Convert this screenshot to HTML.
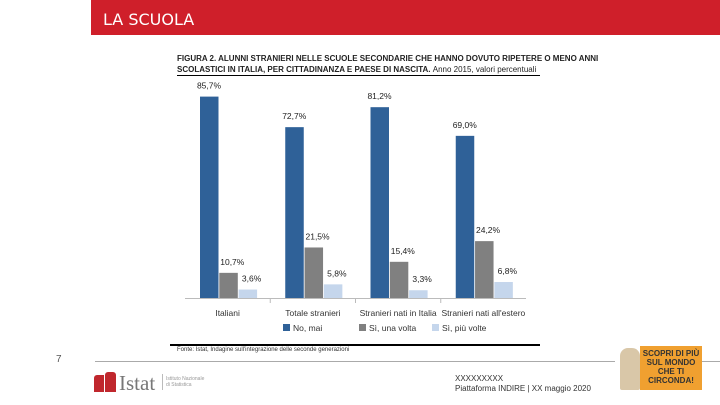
<!DOCTYPE html>
<html><head><meta charset="utf-8"><style>
body{margin:0;width:720px;height:405px;background:#fff;position:relative;overflow:hidden;font-family:"Liberation Sans",sans-serif}
.abs{position:absolute}
</style></head><body>
<div class="abs" style="left:91px;top:0;width:629px;height:35px;background:#cf1f2a"></div>
<div class="abs" style="left:103px;top:10px;color:#fff;font-size:16px;font-family:'DejaVu Sans',sans-serif">LA SCUOLA</div>
<div class="abs" style="left:177px;top:53px;font-size:8.6px;line-height:11px;color:#222;font-weight:bold;transform:scaleX(0.93);transform-origin:left;white-space:nowrap">FIGURA 2. ALUNNI STRANIERI NELLE SCUOLE SECONDARIE CHE HANNO DOVUTO RIPETERE O MENO ANNI<br>SCOLASTICI IN ITALIA, PER CITTADINANZA E PAESE DI NASCITA. <span style="font-weight:normal">Anno 2015, valori percentuali</span></div>
<div class="abs" style="left:177px;top:75px;width:363px;height:1px;background:#000"></div>
<svg class="abs" style="left:0;top:0" width="720" height="405" id="chart">
<line x1="185" y1="298.5" x2="526" y2="298.5" stroke="#bbb"/>
</svg>
<div class="abs" style="left:170px;top:344px;width:370px;height:2px;background:#000"></div>
<div class="abs" style="left:177px;top:347px;font-size:6px;color:#333">Fonte: Istat, Indagine sull'integrazione delle seconde generazioni</div>
<div class="abs" style="left:95px;top:361px;width:520px;height:1px;background:#aaa"></div>
<div class="abs" style="left:700px;top:361px;width:20px;height:1px;background:#aaa"></div>
<div class="abs" style="left:56px;top:354px;font-size:10px;color:#555">7</div>
<div class="abs" style="left:94px;top:372px;width:60px;height:20px">
<div class="abs" style="left:0;top:3px;width:10px;height:17px;background:#c0272d;border-radius:3px 0 0 0"></div>
<div class="abs" style="left:11px;top:0;width:11px;height:20px;background:#c0272d;border-radius:3px 3px 0 0"></div>
<div class="abs" style="left:25px;top:-1px;font-family:'Liberation Serif',serif;font-size:21px;color:#777">Istat</div>
<div class="abs" style="left:68px;top:2px;width:1px;height:16px;background:#bbb"></div>
<div class="abs" style="left:72px;top:4px;font-size:5px;color:#999;white-space:nowrap">Istituto Nazionale<br>di Statistica</div>
</div>
<div class="abs" style="left:455px;top:374px;font-size:8px;color:#333">XXXXXXXXX</div>
<div class="abs" style="left:455px;top:384px;font-size:8px;color:#333">Piattaforma INDIRE | XX maggio 2020</div>
<div class="abs" style="left:640px;top:346px;width:62px;height:44px;background:#f0a030;color:#333;font-size:8px;font-weight:bold;text-align:center;line-height:9px;padding-top:3px;box-sizing:border-box">SCOPRI DI PIÙ<br>SUL MONDO<br>CHE TI CIRCONDA!</div>
<div class="abs" style="left:620px;top:348px;width:20px;height:42px;background:#d9c7a8;border-radius:8px 8px 2px 2px"></div>
<script>
const categories=["Italiani","Totale stranieri","Stranieri nati in Italia","Stranieri nati all'estero"];
const seriesNames=["No, mai","Sì, una volta","Sì, più volte"];
const noMai=[85.7,72.7,81.2,69.0];
const unaVolta=[10.7,21.5,15.4,24.2];
const piuVolte=[3.6,5.8,3.3,6.8];
const labelsNoMai=["85,7%","72,7%","81,2%","69,0%"];
const labelsUna=["10,7%","21,5%","15,4%","24,2%"];
const labelsPiu=["3,6%","5,8%","3,3%","6,8%"];
const colors=["#2f6198","#808080","#c5d6ec"];
const svg=document.getElementById('chart');
const NS="http://www.w3.org/2000/svg";
const x0=185,x1=526,base=298,kPx=2.35;
const catW=(x1-x0)/categories.length;
const yS=v=>base-v*kPx;
const series=[noMai,unaVolta,piuVolte];
const labs=[labelsNoMai,labelsUna,labelsPiu];
function mk(t,a){const e=document.createElementNS(NS,t);for(const k in a)e.setAttribute(k,a[k]);svg.appendChild(e);return e;}
categories.forEach((c,i)=>{
  const cx=x0+catW*i;
  if(i>0){const t=mk('line',{x1:cx,y1:298,x2:cx,y2:303,stroke:'#bbb'});
    
    }
  const l=mk('text',{x:cx+catW/2,y:316,'text-anchor':'middle','font-size':'8.5','fill':'#333','font-family':'Liberation Sans,sans-serif'});
  l.textContent=c;
  
  
  series.forEach((s,j)=>{
    const bx=cx+15+j*19.3,y=yS(s[i]);
    const r=mk('rect',{x:bx,y:y,width:18.5,height:base-y,fill:colors[j]});
    
    
    const t=mk('text',{x:bx+9+(j>0?4:0),y:y-8,'text-anchor':'middle','font-size':'8.5','fill':'#222','font-family':'Liberation Sans,sans-serif'});
    t.textContent=labs[j][i];
    
    
  });
});
const lx=[283,361,380+0];
const legX=[283,360,380];
[283,359,432].forEach((x,j)=>{
  const r=mk('rect',{x:x,y:324,width:7,height:7,fill:colors[j]});
  
  
  const t=mk('text',{x:x+10,y:331,'font-size':'8.5','fill':'#333','font-family':'Liberation Sans,sans-serif'});
  t.textContent=seriesNames[j];
  
  
});
</script>
</body></html>
